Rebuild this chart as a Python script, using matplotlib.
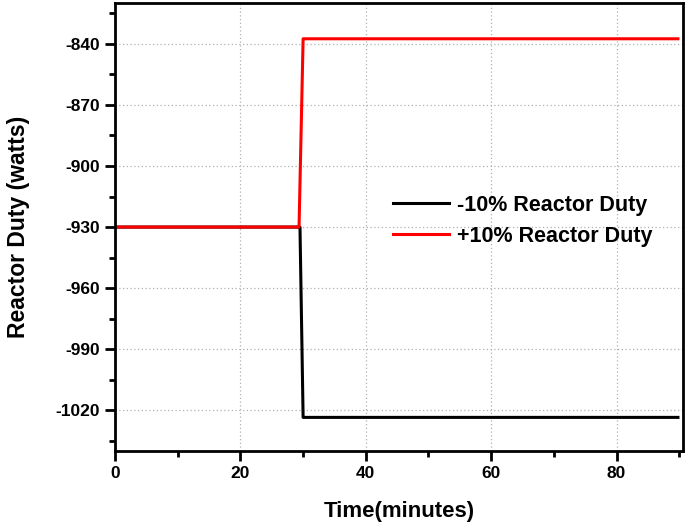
import matplotlib
matplotlib.use("Agg")
import matplotlib.pyplot as plt
from matplotlib.ticker import MultipleLocator

plt.rcParams['font.family'] = ['Liberation Sans', 'DejaVu Sans']
plt.rcParams['font.weight'] = 'bold'
plt.rcParams['axes.unicode_minus'] = False

time_minus = [0, 29.5, 30.0, 89.8]
duty_minus = [-930, -930, -1023.5, -1023.5]
time_plus = [0, 29.35, 30.0, 89.8]
duty_plus = [-930, -930, -837.5, -837.5]
labels = ["-10% Reactor Duty", "+10% Reactor Duty"]

fig = plt.figure(figsize=(6.85, 5.25), dpi=100)
ax = fig.add_axes([0.168, 0.141, 0.829, 0.853])

ax.plot(time_minus, duty_minus, color='black', lw=2.2, label=labels[0])
ax.plot(time_plus, duty_plus, color='#ff0000', lw=2.2, label=labels[1])

ax.set_xlim(0, 90.6)
ax.set_ylim(-1040, -820)
ax.xaxis.set_major_locator(MultipleLocator(20))
ax.xaxis.set_minor_locator(MultipleLocator(10))
ax.yaxis.set_major_locator(MultipleLocator(30))
ax.yaxis.set_minor_locator(MultipleLocator(15))
ax.set_yticks([-840, -870, -900, -930, -960, -990, -1020])

ax.grid(True, which='major', color='#b0b0b0', linestyle=(0, (1, 2)), lw=0.9)
for s in ax.spines.values():
    s.set_linewidth(2)
ax.tick_params(which='major', direction='out', length=7, width=2, labelsize=12.5, pad=4)
ax.tick_params(which='minor', direction='out', length=4, width=2)
for t in ax.get_xticklabels() + ax.get_yticklabels():
    t.set_fontweight('bold')

ax.set_xlabel("Time(minutes)", fontsize=16, fontweight='bold', labelpad=14)
ax.set_ylabel("Reactor Duty (watts)", fontsize=16.5, fontweight='bold', labelpad=18)

ax.legend(loc='upper left', bbox_to_anchor=(0.455, 0.615), frameon=False,
          prop={'size': 15.5, 'weight': 'bold'}, handlelength=2.6, labelspacing=0.45,
          handletextpad=0.4)

fig.savefig("out.png", dpi=100)
